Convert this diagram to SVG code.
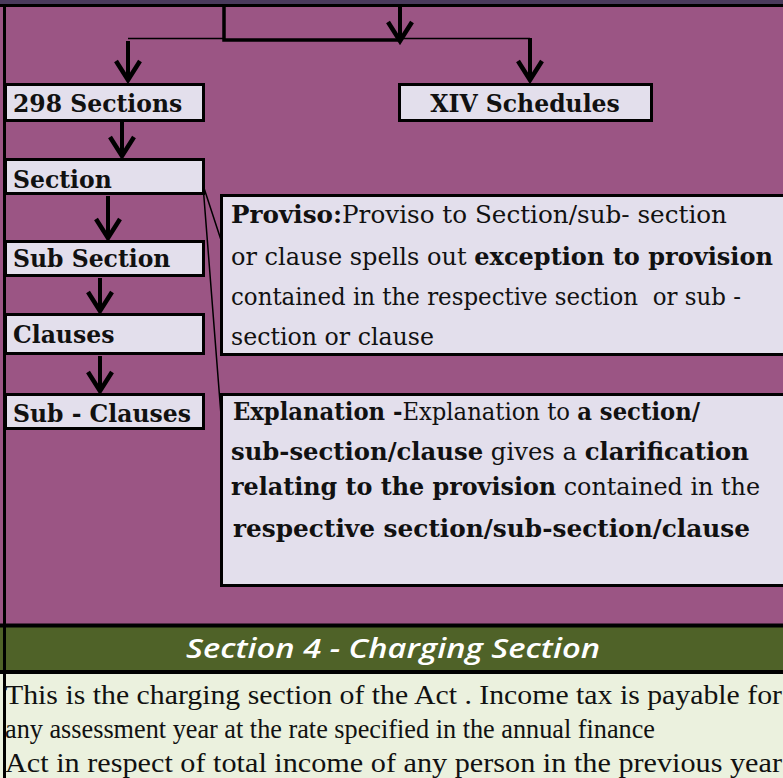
<svg xmlns="http://www.w3.org/2000/svg" width="783" height="778" viewBox="0 0 783 778">
<style>
.box{fill:#e3dfec;stroke:#000;stroke-width:3}
.lbl{font-family:"DejaVu Serif",serif;font-weight:bold;font-size:23.5px;fill:#111}
.body{font-family:"DejaVu Serif",serif;font-size:24px;fill:#111;white-space:pre}
.b{font-weight:bold}
.arrow{stroke:#000;stroke-width:4;fill:none;marker-end:url(#head)}
.thin{stroke:#000;stroke-width:1.5;fill:none}
.thick{stroke:#000;stroke-width:3.5;fill:none}
.foot{font-family:"Liberation Serif",serif;font-size:28px;fill:#111}
</style>
<defs>
<marker id="head" viewBox="0 0 26 28" refX="23" refY="14" markerWidth="26" markerHeight="28" markerUnits="userSpaceOnUse" orient="auto">
<path d="M3 2 L22 14 L3 26" fill="none" stroke="#000" stroke-width="4.5" stroke-linejoin="miter"/>
</marker>
</defs>
<rect x="0" y="0" width="783" height="778" fill="#9b5584"/>
<rect x="0" y="0" width="783" height="5" fill="#4a3a5c"/>
<rect x="0" y="626" width="783" height="46" fill="#4f6228"/>
<rect x="0" y="672" width="783" height="106" fill="#ebf1de"/>
<g id="frame" stroke="#000" fill="none">
<line x1="0" y1="5.5" x2="783" y2="5.5" stroke-width="3"/>
<line x1="4.5" y1="4" x2="4.5" y2="778" stroke-width="3"/>
<line x1="0" y1="625.5" x2="783" y2="625.5" stroke-width="4"/>
<line x1="0" y1="672" x2="783" y2="672" stroke-width="4"/>
</g>
<g id="connectors">
<path class="thick" d="M224 7 V40 H401"/>
<path class="thin" d="M128 38.5 H224 M400 38.5 H530"/>
<path class="arrow" d="M400 7 V42"/>
<path class="arrow" d="M128 41 V81"/>
<path class="arrow" d="M530 38 V81"/>
<path class="arrow" d="M122 121 V157"/>
<path class="arrow" d="M108 196 V239"/>
<path class="arrow" d="M100 278 V312"/>
<path class="arrow" d="M100 356 V392"/>
<path class="thin" d="M203 185 L221 240 M203 185 L221 415"/>
</g>
<g id="n298">
<rect class="box" x="5.5" y="84.5" width="198" height="36"/>
<text class="lbl" x="13" y="112">298 Sections</text>
</g>
<g id="nxiv">
<rect class="box" x="399.5" y="84.5" width="252" height="36"/>
<text class="lbl" x="525" y="112" text-anchor="middle">XIV Schedules</text>
</g>
<g id="nsection">
<rect class="box" x="5.5" y="159.5" width="198" height="34"/>
<text class="lbl" x="13" y="188">Section</text>
</g>
<g id="nsubsection">
<rect class="box" x="5.5" y="241.5" width="198" height="34"/>
<text class="lbl" x="13" y="267">Sub Section</text>
</g>
<g id="nclauses">
<rect class="box" x="5.5" y="314.5" width="198" height="39"/>
<text class="lbl" x="13" y="343">Clauses</text>
</g>
<g id="nsubclauses">
<rect class="box" x="5.5" y="394.5" width="198" height="34"/>
<text class="lbl" x="13" y="422">Sub - Clauses</text>
</g>
<g id="nproviso">
<rect class="box" x="221.5" y="195.5" width="600" height="159"/>
<text class="body" x="231" y="223" textLength="496" lengthAdjust="spacingAndGlyphs"><tspan class="b">Proviso:</tspan>Proviso to Section/sub- section</text>
<text class="body" x="231" y="265" textLength="542" lengthAdjust="spacingAndGlyphs">or clause spells out <tspan class="b">exception to provision</tspan></text>
<text class="body" x="231" y="305" textLength="510" lengthAdjust="spacingAndGlyphs">contained in the respective section  or sub -</text>
<text class="body" x="231" y="345" textLength="203" lengthAdjust="spacingAndGlyphs">section or clause</text>
</g>
<g id="nexplanation">
<rect class="box" x="221.5" y="394.5" width="600" height="191"/>
<text class="body" x="233" y="420" textLength="467" lengthAdjust="spacingAndGlyphs"><tspan class="b">Explanation -</tspan>Explanation to <tspan class="b">a section/</tspan></text>
<text class="body" x="231" y="460" textLength="518" lengthAdjust="spacingAndGlyphs"><tspan class="b">sub-section/clause</tspan> gives a <tspan class="b">clarification</tspan></text>
<text class="body" x="231" y="495" textLength="529" lengthAdjust="spacingAndGlyphs"><tspan class="b">relating to the provision</tspan> contained in the</text>
<text class="body" x="233" y="537" textLength="517" lengthAdjust="spacingAndGlyphs"><tspan class="b">respective section/sub-section/clause</tspan></text>
</g>
<g id="section4">
<text x="393" y="658" text-anchor="middle" font-family="Open Sans, sans-serif" font-style="italic" font-weight="600" font-size="27" fill="#fff" textLength="414" lengthAdjust="spacingAndGlyphs">Section 4 - Charging Section</text>
<text class="foot" x="5" y="704" textLength="777" lengthAdjust="spacingAndGlyphs">This is the charging section of the Act . Income tax is payable for</text>
<text class="foot" x="5" y="738" textLength="650" lengthAdjust="spacingAndGlyphs">any assessment year at the rate specified in the annual finance</text>
<text class="foot" x="5" y="772" textLength="777" lengthAdjust="spacingAndGlyphs">Act in respect of total income of any person in the previous year</text>
</g>
</svg>
